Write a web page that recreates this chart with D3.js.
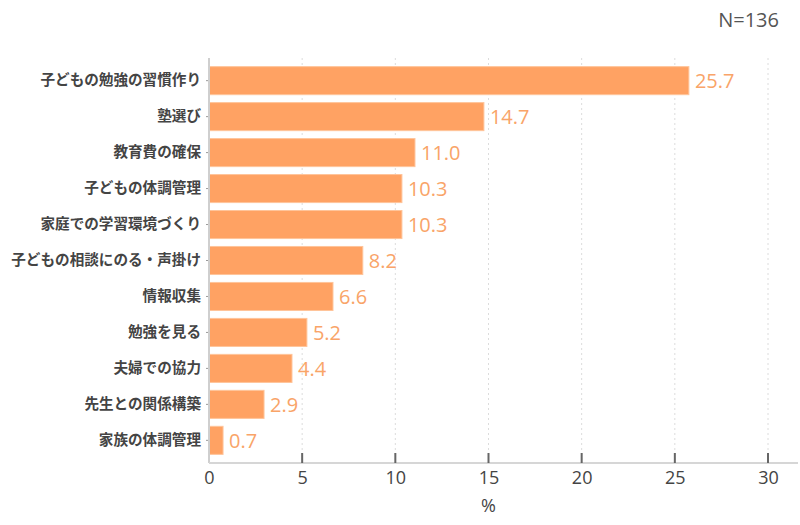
<!DOCTYPE html>
<html>
<head>
<meta charset="utf-8">
<script src="https://cdn.jsdelivr.net/npm/d3@7"></script>
<style>
  body { margin: 0; background: #fff; }
  svg { display: block; }
</style>
</head>
<body>
<div id="chart"></div>
<script>
// Data
const categories = [
    '子どもの勉強の習慣作り',
    '塾選び',
    '教育費の確保',
    '子どもの体調管理',
    '家庭での学習環境づくり',
    '子どもの相談にのる・声掛け',
    '情報収集',
    '勉強を見る',
    '夫婦での協力',
    '先生との関係構築',
    '家族の体調管理'
];
const values = [25.7, 14.7, 11.0, 10.3, 10.3, 8.2, 6.6, 5.2, 4.4, 2.9, 0.7];
const xTicks = [0, 5, 10, 15, 20, 25, 30];
const sampleLabel = 'N=136';
const axisTitle = '%';

const width = 800, height = 525;
const plotLeft = 209, plotRight = 768, axisEnd = 798;
const plotTop = 58, plotBottom = 463;

const barColor = '#ffa263';
const labelColor = '#f9a468';
const textColor = '#444';
const cjkFont = '"Noto Sans CJK JP", "Noto Sans", sans-serif';
const numFont = '"Open Sans", "Noto Sans", sans-serif';

const svg = d3.select('#chart')
    .append('svg')
    .attr('width', width)
    .attr('height', height);

const x = d3.scaleLinear()
    .domain([0, 30])
    .range([plotLeft, plotRight]);

const y = d3.scaleBand()
    .domain(categories)
    .range([plotTop, plotBottom])
    .paddingInner(0.22)
    .paddingOuter(0.24);

// Dotted vertical gridlines
svg.append('g')
    .selectAll('line')
    .data(xTicks.slice(1))
    .enter().append('line')
    .attr('x1', d => x(d))
    .attr('x2', d => x(d))
    .attr('y1', plotTop)
    .attr('y2', plotBottom)
    .attr('stroke', '#dcdcdc')
    .attr('stroke-width', 1)
    .attr('stroke-dasharray', '2,3');

// Bars (thin lighter edge like the original)
svg.append('g')
    .selectAll('rect')
    .data(values)
    .enter().append('rect')
    .attr('x', x(0))
    .attr('y', (d, i) => y(categories[i]))
    .attr('width', d => x(d) - x(0) + 1)
    .attr('height', y.bandwidth())
    .attr('fill', barColor)
    .attr('stroke', '#ffc49a')
    .attr('stroke-width', 1);

// Value labels
svg.append('g')
    .selectAll('text')
    .data(values)
    .enter().append('text')
    .attr('x', d => x(d) + 7)
    .attr('y', (d, i) => y(categories[i]) + y.bandwidth() / 2)
    .attr('dy', '0.36em')
    .attr('fill', labelColor)
    .style('font-family', numFont)
    .style('font-size', '20px')
    .text(d => d.toFixed(1));

// Y axis (category labels)
const yAxis = svg.append('g')
    .attr('transform', `translate(${plotLeft},0)`)
    .call(d3.axisLeft(y).tickSize(3).tickPadding(5));
yAxis.select('.domain').remove();
yAxis.selectAll('.tick line').attr('stroke', '#999');
yAxis.selectAll('.tick text')
    .attr('fill', textColor)
    .style('font-family', cjkFont)
    .style('font-size', '14.6px')
    .style('font-weight', '600');

svg.append('line')
    .attr('x1', plotLeft)
    .attr('x2', plotLeft)
    .attr('y1', plotTop)
    .attr('y2', plotBottom)
    .attr('stroke', '#cfcfcf')
    .attr('stroke-width', 2);

// X axis
svg.append('line')
    .attr('x1', plotLeft)
    .attr('x2', axisEnd)
    .attr('y1', plotBottom)
    .attr('y2', plotBottom)
    .attr('stroke', '#d6d6d6')
    .attr('stroke-width', 2);

const xAxis = svg.append('g')
    .attr('transform', `translate(0,${plotBottom})`)
    .call(d3.axisBottom(x).tickValues(xTicks).tickSize(0).tickPadding(8));
xAxis.select('.domain').remove();
xAxis.selectAll('.tick text')
    .attr('fill', textColor)
    .style('font-family', numFont)
    .style('font-size', '18px');

// Inward tick marks
svg.append('g')
    .selectAll('line')
    .data(xTicks.slice(1))
    .enter().append('line')
    .attr('x1', d => x(d))
    .attr('x2', d => x(d))
    .attr('y1', plotBottom - 10)
    .attr('y2', plotBottom)
    .attr('stroke', '#666')
    .attr('stroke-width', 2);

// Axis title
svg.append('text')
    .attr('x', (plotLeft + plotRight) / 2)
    .attr('y', 512)
    .attr('text-anchor', 'middle')
    .attr('fill', textColor)
    .style('font-family', numFont)
    .style('font-size', '18px')
    .text(axisTitle);

// Sample size
svg.append('text')
    .attr('x', 779)
    .attr('y', 27)
    .attr('text-anchor', 'end')
    .attr('fill', '#555')
    .style('font-family', numFont)
    .style('font-size', '20px')
    .text(sampleLabel);
</script>
</body>
</html>
